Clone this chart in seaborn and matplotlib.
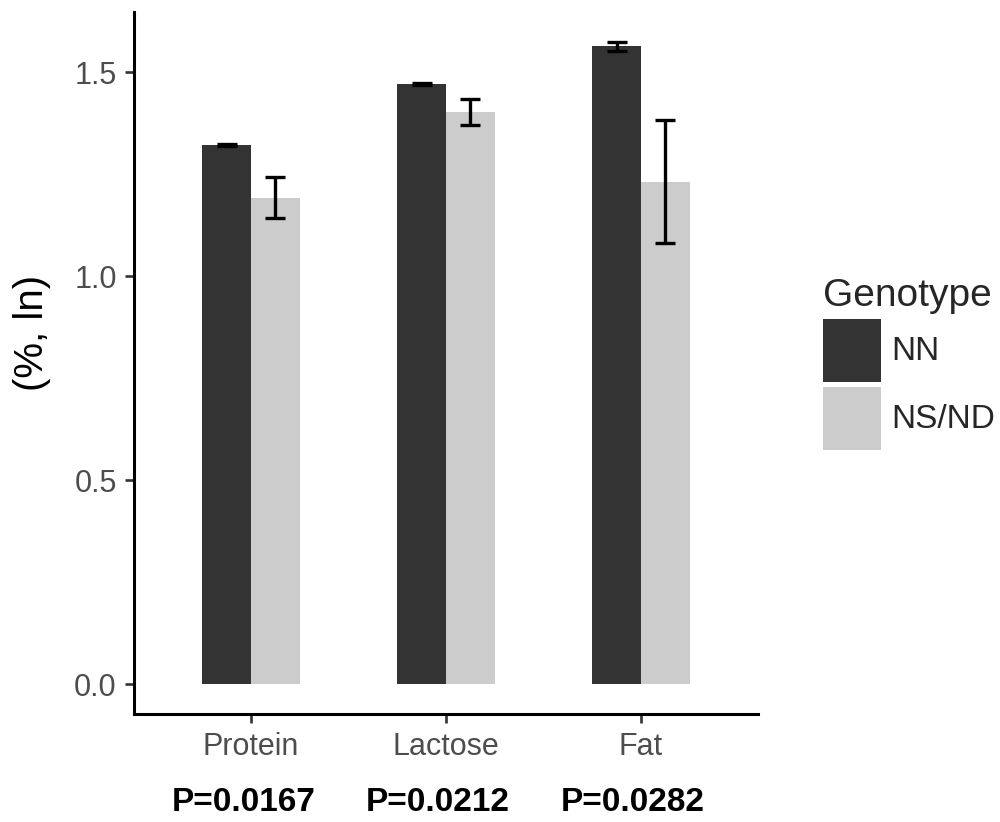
import matplotlib
matplotlib.use("Agg")
import matplotlib.pyplot as plt
import matplotlib.transforms as mtransforms
from matplotlib.patches import Patch
import seaborn as sns
import pandas as pd

# values
traits = ["Protein", "Lactose", "Fat"]
genotypes = ["NN", "NS/ND"]
nn_mean = [1.322, 1.471, 1.564]
nn_err = [0.002, 0.002, 0.011]
ns_mean = [1.193, 1.403, 1.232]
ns_err = [0.050, 0.031, 0.150]
p_values = ["P=0.0167", "P=0.0212", "P=0.0282"]
colors = ["#333333", "#cccccc"]

df = pd.DataFrame({
    "trait": traits * 2,
    "genotype": ["NN"] * 3 + ["NS/ND"] * 3,
    "value": nn_mean + ns_mean,
    "err": nn_err + ns_err,
})

sns.set_theme(style="ticks")
plt.rcParams["font.family"] = ["Liberation Sans", "DejaVu Sans"]

fig = plt.figure(figsize=(10, 8.22), dpi=100)
ax = fig.add_axes([0.134, 0.131, 0.624, 0.854])

sns.barplot(data=df, x="trait", y="value", hue="genotype", order=traits,
            hue_order=genotypes, palette=colors, width=0.5, gap=0,
            errorbar=None, saturation=1, linewidth=0, legend=False, ax=ax)

# error bars on top of each bar
for cont, g in zip(ax.containers, genotypes):
    sub = df[df.genotype == g].set_index("trait").loc[traits]
    xs = [b.get_x() + b.get_width() / 2 for b in cont]
    ax.errorbar(xs, sub["value"], yerr=sub["err"], fmt="none", ecolor="black",
                elinewidth=2.4, capsize=7.5, capthick=2.4, zorder=5)

ax.set_xlim(-0.6, 2.6)
ax.set_ylim(-0.0735, 1.647)
ax.set_yticks([0.0, 0.5, 1.0, 1.5])
ax.set_yticklabels(["0.0", "0.5", "1.0", "1.5"])
ax.set_xlabel("")
ax.set_ylabel("(%, ln)", fontsize=29, color="black")
ax.yaxis.set_label_coords(-0.133, 0.543)
sns.despine(ax=ax)
for s in ["left", "bottom"]:
    ax.spines[s].set_linewidth(2.2)
    ax.spines[s].set_color("black")
ax.tick_params(axis="both", length=6.5, width=1.9, color="#333333",
               labelcolor="#4d4d4d", labelsize=22, pad=6)

# p-values under the category labels
trans = mtransforms.blended_transform_factory(ax.transData, ax.transAxes)
for i, p in enumerate(p_values):
    ax.text(i - 0.04, -0.103, p, transform=trans, ha="center", va="top",
            fontsize=24, fontweight="bold", color="black")

handles = [Patch(facecolor=c, edgecolor="none") for c in colors]
fig.legend(handles, genotypes, title="Genotype", loc="upper left",
           bbox_to_anchor=(0.823, 0.662), frameon=False, fontsize=24,
           title_fontsize=28, handlelength=1.74, handleheight=2.53,
           labelspacing=0.15, handletextpad=0.3, alignment="left",
           borderaxespad=0, borderpad=0)

fig.savefig("out.png", dpi=100)
